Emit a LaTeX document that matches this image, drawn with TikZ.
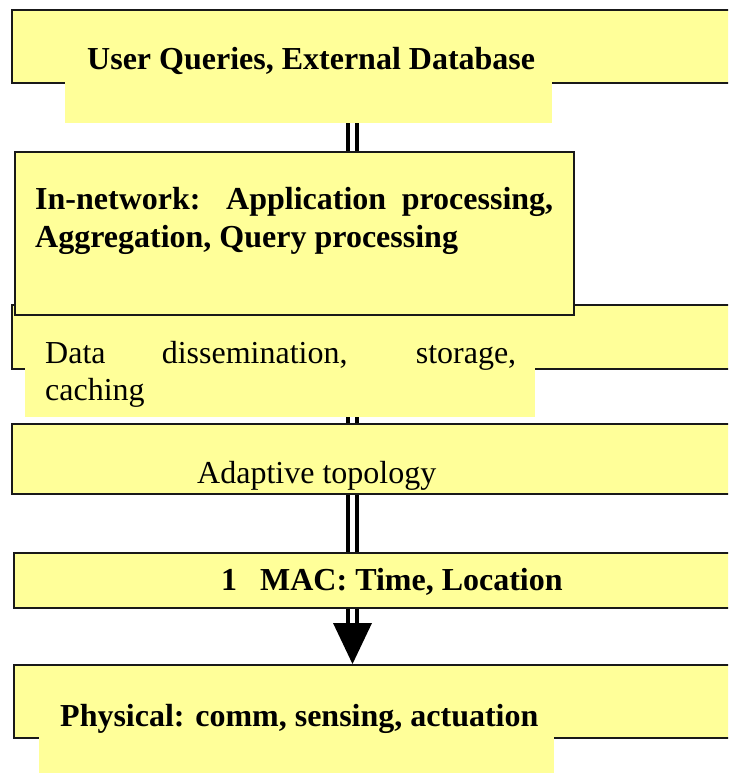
\documentclass[tikz,border=0pt]{standalone}
\usepackage{fontspec}
\setmainfont{Liberation Serif}
\usetikzlibrary{calc,backgrounds}
\definecolor{paleyellow}{HTML}{FFFF99}

\tikzset{
  layerbox/.style={draw=black!90, line width=2pt, fill=paleyellow, rectangle,
    inner sep=0pt, anchor=north west},
  textpad/.style={fill=paleyellow, rectangle, inner sep=0pt, anchor=north west},
  label text/.style={inner sep=0pt, anchor=base west,
    font=\fontsize{32}{37.5}\selectfont},
  rail/.style={draw=black, line width=4pt, double=white, double distance=4.5pt},
}

\begin{document}
\begin{tikzpicture}[x=1pt, y=-1pt]
  \useasboundingbox (0,0) rectangle (728,773);
  \clip (0,0) rectangle (728,773);

  % top layer: user queries (runs on past the right margin)
  \node[layerbox, minimum width=770pt, minimum height=73pt] (users) at (10.5,9.5) {};
  \node[textpad, minimum width=486.5pt, minimum height=83pt] (usersfill) at (65,40) {};
  \node[label text, font=\fontsize{32}{37.5}\selectfont\bfseries] (tusers) at (87,69.5)
    {User Queries, External Database};

  % data dissemination layer (partly under the in-network box)
  \node[layerbox, minimum width=770pt, minimum height=64pt] (data) at (11,304) {};
  \node[textpad, minimum width=510pt, minimum height=99pt] (datafill) at (25,318) {};
  \node[label text] (tdata) at (45,363.3)
    {\parbox[t]{471pt}{\makebox[471pt][s]{Data dissemination, storage,}\\caching}};

  % in-network processing
  \node[layerbox, minimum width=559pt, minimum height=163pt] (net) at (13.5,151) {};
  \node[label text, font=\fontsize{32}{38}\selectfont\bfseries] (tnet) at (35,209.3)
    {\parbox[t]{518pt}{\makebox[518pt][s]{In-network: Application processing,}\\Aggregation, Query processing}};

  % adaptive topology
  \node[layerbox, minimum width=770pt, minimum height=70pt] (topo) at (11,423) {};
  \node[label text] (ttopo) at (197,483) {Adaptive topology};

  % MAC
  \node[layerbox, minimum width=770pt, minimum height=55pt] (mac) at (12.5,552) {};
  \node[label text, font=\fontsize{32}{37.5}\selectfont\bfseries] (tmac) at (221,590.7)
    {1\hspace{23pt}MAC: Time, Location};

  % physical
  \node[layerbox, minimum width=770pt, minimum height=73pt] (phys) at (12.5,664) {};
  \node[textpad, minimum width=515pt, minimum height=90pt] (physfill) at (39,690) {};
  \node[label text, font=\fontsize{32}{37.5}\selectfont\bfseries] (tphys) at (60,726.7)
    {Physical: comm, sensing, actuation};

  % vertical double rail with arrow head, behind the boxes
  \begin{pgfonlayer}{background}
    \coordinate (spine) at (352.5,0);
    \coordinate (tipbase) at (352.5,623);
    \draw[rail] (usersfill.south -| spine) -- (tipbase);
    \fill[black] ($(tipbase)+(-19.5,0)$) -- ($(tipbase)+(19.5,0)$)
      -- (phys.north -| spine) -- cycle;
  \end{pgfonlayer}
\end{tikzpicture}
\end{document}
